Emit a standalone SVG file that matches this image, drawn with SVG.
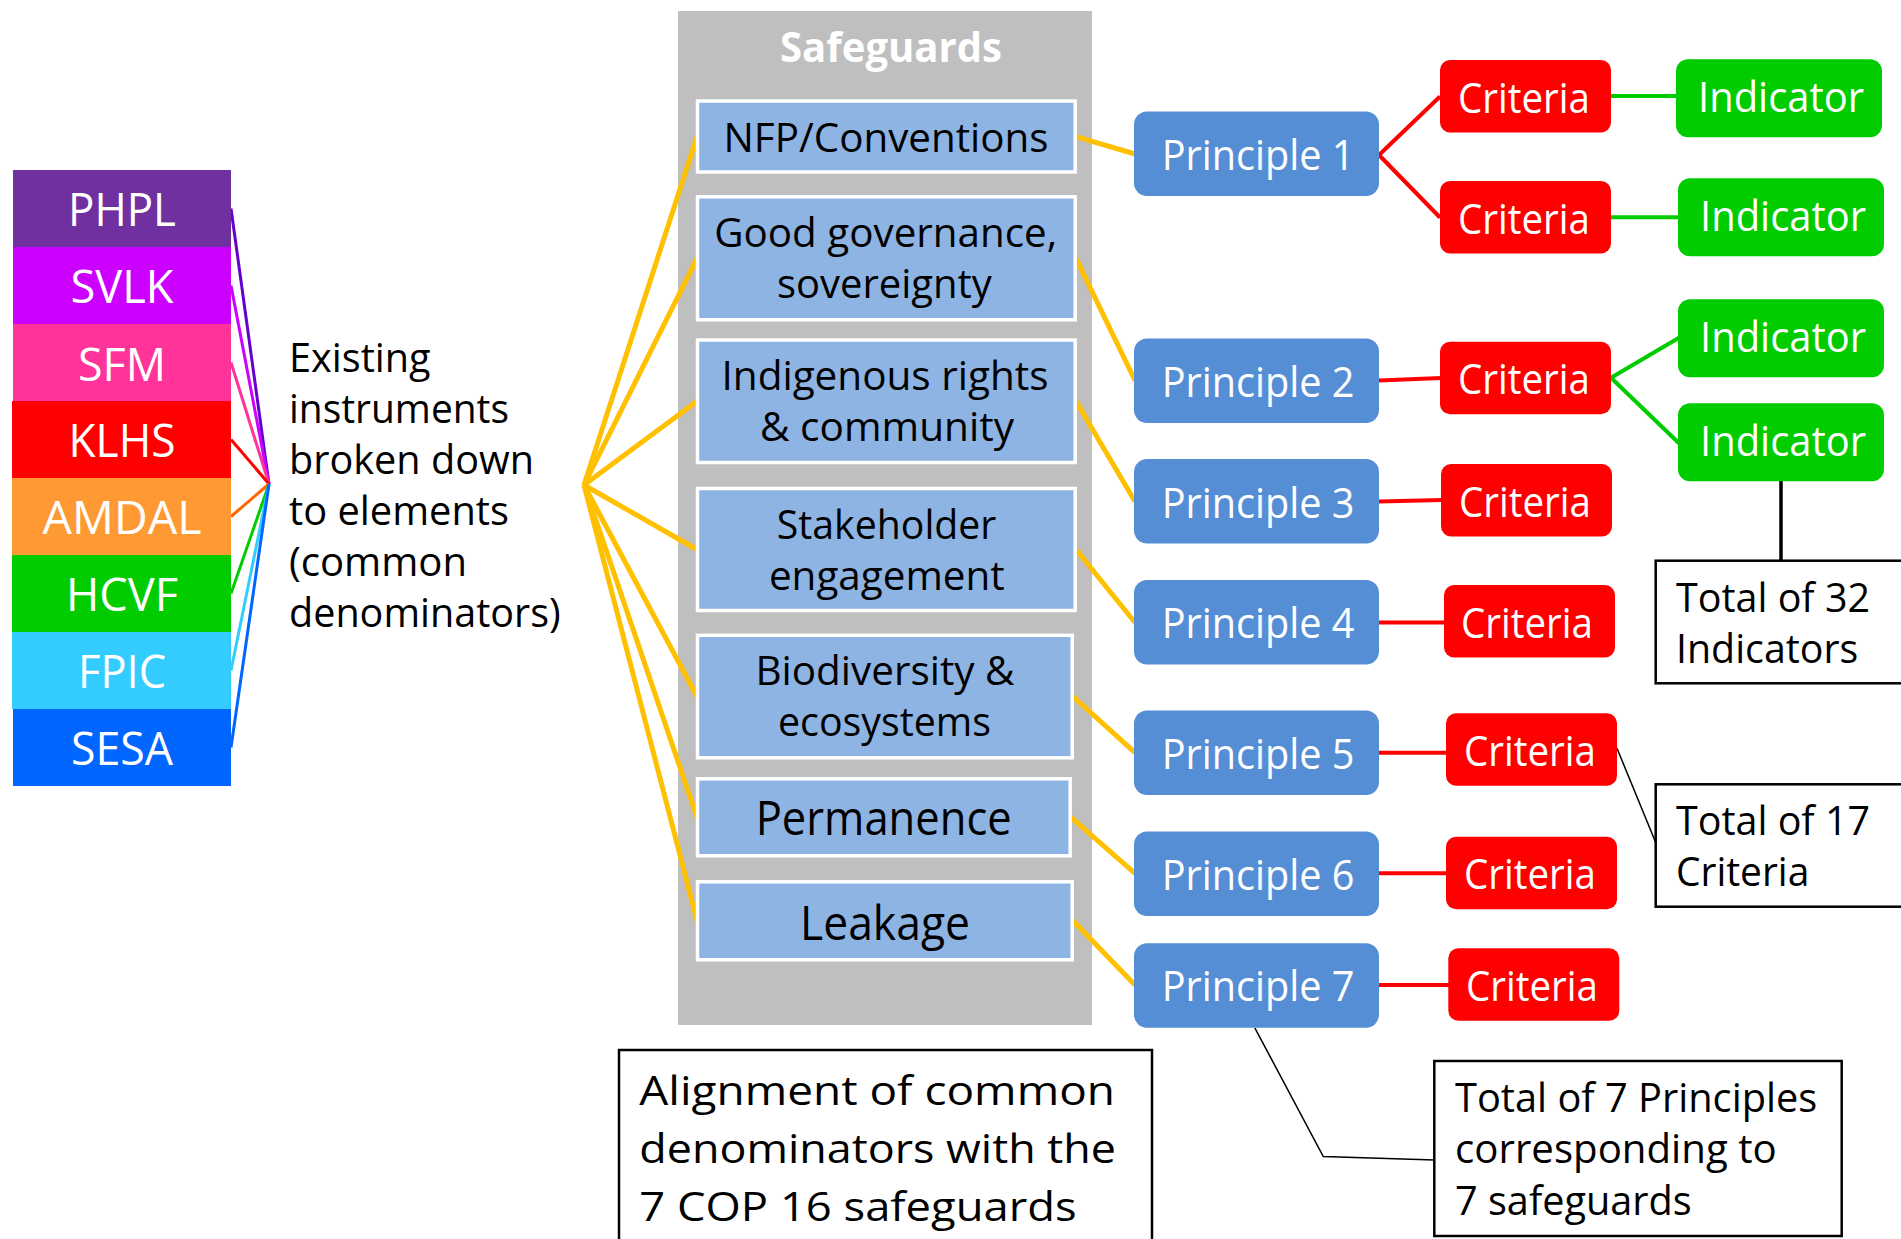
<svg xmlns="http://www.w3.org/2000/svg" width="1901" height="1239" viewBox="0 0 1901 1239">
  <style>
    text { font-family: "Open Sans", "Noto Sans", "Liberation Sans", sans-serif; }
    .inst { fill: #ffffff; font-size: 46px; text-anchor: middle; }
    .note { fill: #000000; font-size: 40px; }
    .sgTitle { fill: #ffffff; font-size: 42px; font-weight: bold; text-anchor: middle; }
    .sgBox { fill: #8EB4E3; stroke: #ffffff; stroke-width: 3.5; }
    .sgTxt { fill: #000000; font-size: 40px; text-anchor: middle; }
    .sgBig { fill: #000000; font-size: 47px; text-anchor: middle; }
    .prin { fill: #558ED5; }
    .crit { fill: #FF0000; }
    .ind { fill: #00CC00; }
    .wTxt { fill: #ffffff; font-size: 42px; text-anchor: middle; }
    .tot { fill: #ffffff; stroke: #000000; stroke-width: 2.5; }
    .totTxt { fill: #000000; font-size: 41px; }
    .yl { stroke: #FFC000; stroke-width: 5; fill: none; }
    .rl { stroke: #FF0000; stroke-width: 4; fill: none; }
    .gl { stroke: #00CC00; stroke-width: 4; fill: none; }
    .bl { stroke: #000000; fill: none; }
  </style>

  <!-- Safeguards container panel -->
  <g id="safeguards-panel">
    <rect x="678" y="11" width="414" height="1014" fill="#BFBFBF"/>
    <text class="sgTitle" x="891" y="62" textLength="222" lengthAdjust="spacingAndGlyphs">Safeguards</text>
  </g>

  <!-- Connectors -->
  <g id="connectors">
    <!-- instruments to common denominators -->
    <line x1="231" y1="208.5" x2="269" y2="484" stroke="#6600CC" stroke-width="3"/>
    <line x1="231" y1="285.5" x2="269" y2="484" stroke="#CC00FF" stroke-width="3"/>
    <line x1="231" y1="362.5" x2="269" y2="484" stroke="#FF3399" stroke-width="3"/>
    <line x1="231" y1="439.5" x2="269" y2="484" stroke="#FF0000" stroke-width="3"/>
    <line x1="231" y1="516.5" x2="269" y2="484" stroke="#FF6600" stroke-width="3"/>
    <line x1="231" y1="593.5" x2="269" y2="484" stroke="#00CC00" stroke-width="3"/>
    <line x1="231" y1="670.5" x2="269" y2="484" stroke="#33CCFF" stroke-width="3"/>
    <line x1="231" y1="747.5" x2="269" y2="484" stroke="#0066FF" stroke-width="3"/>

    <!-- fan into safeguards -->
    <line class="yl" x1="584" y1="485" x2="697" y2="136.7"/>
    <line class="yl" x1="584" y1="485" x2="697" y2="258.3"/>
    <line class="yl" x1="584" y1="485" x2="697" y2="401.3"/>
    <line class="yl" x1="584" y1="485" x2="697" y2="549.5"/>
    <line class="yl" x1="584" y1="485" x2="697" y2="696.5"/>
    <line class="yl" x1="584" y1="485" x2="697" y2="817.4"/>
    <line class="yl" x1="584" y1="485" x2="697" y2="920.7"/>

    <!-- safeguards to principles -->
    <line class="yl" x1="1076" y1="136.7" x2="1135" y2="154"/>
    <line class="yl" x1="1076" y1="258.3" x2="1135" y2="380.5"/>
    <line class="yl" x1="1076" y1="401.3" x2="1135" y2="501.5"/>
    <line class="yl" x1="1076" y1="549.5" x2="1135" y2="622.5"/>
    <line class="yl" x1="1073" y1="696.5" x2="1135" y2="752.7"/>
    <line class="yl" x1="1071" y1="817.4" x2="1135" y2="873.3"/>
    <line class="yl" x1="1073" y1="920.7" x2="1135" y2="985"/>

    <!-- principles to criteria -->
    <line class="rl" x1="1379" y1="155" x2="1440" y2="96.5" stroke-width="3"/>
    <line class="rl" x1="1379" y1="155" x2="1440" y2="217.5" stroke-width="3"/>
    <line class="rl" x1="1379" y1="380.5" x2="1441" y2="378"/>
    <line class="rl" x1="1379" y1="501.5" x2="1442" y2="500"/>
    <line class="rl" x1="1379" y1="622.5" x2="1445" y2="622.5"/>
    <line class="rl" x1="1379" y1="752.7" x2="1447" y2="752.7"/>
    <line class="rl" x1="1379" y1="873.3" x2="1447" y2="873.3"/>
    <line class="rl" x1="1379" y1="985" x2="1449" y2="985"/>

    <!-- criteria to indicators -->
    <line class="gl" x1="1610" y1="96" x2="1677" y2="96"/>
    <line class="gl" x1="1610" y1="217.3" x2="1679" y2="217.3"/>
    <line class="gl" x1="1611" y1="377.7" x2="1679" y2="337.7" stroke-width="3"/>
    <line class="gl" x1="1611" y1="377.7" x2="1679" y2="443.3" stroke-width="3"/>

    <!-- callout leaders -->
    <line class="bl" x1="1781" y1="481" x2="1781" y2="561" stroke-width="3.5"/>
    <line class="bl" x1="1617" y1="748.3" x2="1656" y2="843.3" stroke-width="1.5"/>
    <polyline class="bl" points="1254.8,1027.8 1323.3,1156.5 1434.5,1160" stroke-width="1.5"/>
  </g>

  <!-- Existing instruments -->
  <g id="node-phpl">
    <rect x="13" y="170" width="218" height="77" fill="#7030A0"/>
    <text class="inst" x="122" y="226" textLength="108" lengthAdjust="spacingAndGlyphs">PHPL</text>
  </g>
  <g id="node-svlk">
    <rect x="13" y="247" width="218" height="77" fill="#CC00FF"/>
    <text class="inst" x="122" y="303" textLength="103" lengthAdjust="spacingAndGlyphs">SVLK</text>
  </g>
  <g id="node-sfm">
    <rect x="13" y="324" width="218" height="77" fill="#FF3399"/>
    <text class="inst" x="122" y="381" textLength="88" lengthAdjust="spacingAndGlyphs">SFM</text>
  </g>
  <g id="node-klhs">
    <rect x="12" y="401" width="219" height="77" fill="#FF0000"/>
    <text class="inst" x="122" y="457" textLength="107" lengthAdjust="spacingAndGlyphs">KLHS</text>
  </g>
  <g id="node-amdal">
    <rect x="12" y="478" width="219" height="77" fill="#FF9933"/>
    <text class="inst" x="122" y="534" textLength="159" lengthAdjust="spacingAndGlyphs">AMDAL</text>
  </g>
  <g id="node-hcvf">
    <rect x="12" y="555" width="219" height="77" fill="#00CC00"/>
    <text class="inst" x="122" y="611" textLength="112" lengthAdjust="spacingAndGlyphs">HCVF</text>
  </g>
  <g id="node-fpic">
    <rect x="12" y="632" width="219" height="77" fill="#33CCFF"/>
    <text class="inst" x="122" y="688" textLength="88" lengthAdjust="spacingAndGlyphs">FPIC</text>
  </g>
  <g id="node-sesa">
    <rect x="13" y="709" width="218" height="77" fill="#0066FF"/>
    <text class="inst" x="122" y="765" textLength="102" lengthAdjust="spacingAndGlyphs">SESA</text>
  </g>

  <g id="label-existing">
    <text class="note" x="289" y="372" textLength="141.6" lengthAdjust="spacingAndGlyphs">Existing</text>
    <text class="note" x="289" y="423" textLength="220" lengthAdjust="spacingAndGlyphs">instruments</text>
    <text class="note" x="289" y="474" textLength="245" lengthAdjust="spacingAndGlyphs">broken down</text>
    <text class="note" x="289" y="525" textLength="220" lengthAdjust="spacingAndGlyphs">to elements</text>
    <text class="note" x="289" y="576" textLength="178" lengthAdjust="spacingAndGlyphs">(common</text>
    <text class="note" x="289" y="627" textLength="271.7" lengthAdjust="spacingAndGlyphs">denominators)</text>
  </g>

  <!-- Safeguards -->
  <g id="sg-nfp">
    <rect class="sgBox" x="697.5" y="101" width="377.7" height="71"/>
    <text class="sgTxt" x="886" y="152" font-size="41" textLength="325" lengthAdjust="spacingAndGlyphs">NFP/Conventions</text>
  </g>
  <g id="sg-governance">
    <rect class="sgBox" x="697.5" y="196.8" width="377.7" height="123"/>
    <text class="sgTxt" x="885.7" y="246.7" textLength="343" lengthAdjust="spacingAndGlyphs">Good governance,</text>
    <text class="sgTxt" x="884.4" y="297.7" textLength="215" lengthAdjust="spacingAndGlyphs">sovereignty</text>
  </g>
  <g id="sg-indigenous">
    <rect class="sgBox" x="697.5" y="340" width="377.7" height="122.5"/>
    <text class="sgTxt" x="885" y="390" textLength="327" lengthAdjust="spacingAndGlyphs">Indigenous rights</text>
    <text class="sgTxt" x="887" y="440.7" textLength="254" lengthAdjust="spacingAndGlyphs">&amp; community</text>
  </g>
  <g id="sg-stakeholder">
    <rect class="sgBox" x="697.5" y="488.5" width="377.7" height="122"/>
    <text class="sgTxt" x="886.6" y="539" textLength="219.6" lengthAdjust="spacingAndGlyphs">Stakeholder</text>
    <text class="sgTxt" x="886.8" y="589.6" textLength="235.7" lengthAdjust="spacingAndGlyphs">engagement</text>
  </g>
  <g id="sg-biodiversity">
    <rect class="sgBox" x="697.5" y="635.3" width="374.7" height="122.5"/>
    <text class="sgTxt" x="885" y="685" textLength="259" lengthAdjust="spacingAndGlyphs">Biodiversity &amp;</text>
    <text class="sgTxt" x="884.5" y="735.6" textLength="213" lengthAdjust="spacingAndGlyphs">ecosystems</text>
  </g>
  <g id="sg-permanence">
    <rect class="sgBox" x="697.5" y="778.8" width="372.7" height="77"/>
    <text class="sgBig" x="883.7" y="834.7" textLength="256" lengthAdjust="spacingAndGlyphs">Permanence</text>
  </g>
  <g id="sg-leakage">
    <rect class="sgBox" x="697.5" y="881.8" width="374.7" height="78"/>
    <text class="sgBig" x="885" y="939.5" textLength="170" lengthAdjust="spacingAndGlyphs">Leakage</text>
  </g>

  <!-- Principles -->
  <g id="principle-1">
    <rect class="prin" x="1134" y="111.5" width="245" height="84.5" rx="13"/>
    <text class="wTxt" x="1258" y="170" textLength="192.7" lengthAdjust="spacingAndGlyphs">Principle 1</text>
  </g>
  <g id="principle-2">
    <rect class="prin" x="1134" y="338.5" width="245" height="84.5" rx="13"/>
    <text class="wTxt" x="1258" y="397" textLength="192.7" lengthAdjust="spacingAndGlyphs">Principle 2</text>
  </g>
  <g id="principle-3">
    <rect class="prin" x="1134" y="459" width="245" height="84.5" rx="13"/>
    <text class="wTxt" x="1258" y="517.5" textLength="192.7" lengthAdjust="spacingAndGlyphs">Principle 3</text>
  </g>
  <g id="principle-4">
    <rect class="prin" x="1134" y="580" width="245" height="84.5" rx="13"/>
    <text class="wTxt" x="1258" y="638" textLength="192.7" lengthAdjust="spacingAndGlyphs">Principle 4</text>
  </g>
  <g id="principle-5">
    <rect class="prin" x="1134" y="710.5" width="245" height="84.5" rx="13"/>
    <text class="wTxt" x="1258" y="768.5" textLength="192.7" lengthAdjust="spacingAndGlyphs">Principle 5</text>
  </g>
  <g id="principle-6">
    <rect class="prin" x="1134" y="831.5" width="245" height="84.5" rx="13"/>
    <text class="wTxt" x="1258" y="889.5" textLength="192.7" lengthAdjust="spacingAndGlyphs">Principle 6</text>
  </g>
  <g id="principle-7">
    <rect class="prin" x="1134" y="943.3" width="245" height="84.5" rx="13"/>
    <text class="wTxt" x="1258" y="1001.3" textLength="192.7" lengthAdjust="spacingAndGlyphs">Principle 7</text>
  </g>

  <!-- Criteria -->
  <g id="criteria-1a">
    <rect class="crit" x="1440" y="60" width="171" height="72.5" rx="10"/>
    <text class="wTxt" x="1524" y="112.7" textLength="132" lengthAdjust="spacingAndGlyphs">Criteria</text>
  </g>
  <g id="criteria-1b">
    <rect class="crit" x="1440" y="181" width="171" height="72.5" rx="10"/>
    <text class="wTxt" x="1524" y="233.7" textLength="132" lengthAdjust="spacingAndGlyphs">Criteria</text>
  </g>
  <g id="criteria-2">
    <rect class="crit" x="1440" y="341.7" width="171" height="72.5" rx="10"/>
    <text class="wTxt" x="1524" y="394.4" textLength="132" lengthAdjust="spacingAndGlyphs">Criteria</text>
  </g>
  <g id="criteria-3">
    <rect class="crit" x="1441" y="464" width="171" height="72.5" rx="10"/>
    <text class="wTxt" x="1525" y="516.7" textLength="132" lengthAdjust="spacingAndGlyphs">Criteria</text>
  </g>
  <g id="criteria-4">
    <rect class="crit" x="1444" y="585" width="171" height="72.5" rx="10"/>
    <text class="wTxt" x="1527" y="637.7" textLength="132" lengthAdjust="spacingAndGlyphs">Criteria</text>
  </g>
  <g id="criteria-5">
    <rect class="crit" x="1446" y="713.3" width="171" height="72.5" rx="10"/>
    <text class="wTxt" x="1530" y="766" textLength="132" lengthAdjust="spacingAndGlyphs">Criteria</text>
  </g>
  <g id="criteria-6">
    <rect class="crit" x="1446" y="836.7" width="171" height="72.5" rx="10"/>
    <text class="wTxt" x="1530" y="889.4" textLength="132" lengthAdjust="spacingAndGlyphs">Criteria</text>
  </g>
  <g id="criteria-7">
    <rect class="crit" x="1448.3" y="948.3" width="171" height="72.5" rx="10"/>
    <text class="wTxt" x="1532" y="1001" textLength="132" lengthAdjust="spacingAndGlyphs">Criteria</text>
  </g>

  <!-- Indicators -->
  <g id="indicator-1">
    <rect class="ind" x="1676" y="59.3" width="206" height="78" rx="12"/>
    <text class="wTxt" x="1781" y="111.7" font-size="41" textLength="166" lengthAdjust="spacingAndGlyphs">Indicator</text>
  </g>
  <g id="indicator-2">
    <rect class="ind" x="1678" y="178.3" width="206" height="78" rx="12"/>
    <text class="wTxt" x="1783" y="230.7" font-size="41" textLength="166" lengthAdjust="spacingAndGlyphs">Indicator</text>
  </g>
  <g id="indicator-3">
    <rect class="ind" x="1678" y="299.3" width="206" height="78" rx="12"/>
    <text class="wTxt" x="1783" y="351.7" font-size="41" textLength="166" lengthAdjust="spacingAndGlyphs">Indicator</text>
  </g>
  <g id="indicator-4">
    <rect class="ind" x="1678" y="403.3" width="206" height="78" rx="12"/>
    <text class="wTxt" x="1783" y="455.7" font-size="41" textLength="166" lengthAdjust="spacingAndGlyphs">Indicator</text>
  </g>

  <!-- Totals -->
  <g id="total-indicators">
    <rect class="tot" x="1655.7" y="560.7" width="260" height="122.6"/>
    <text class="totTxt" x="1676" y="611.7" textLength="194" lengthAdjust="spacingAndGlyphs">Total of 32</text>
    <text class="totTxt" x="1676" y="662.7" textLength="182.3" lengthAdjust="spacingAndGlyphs">Indicators</text>
  </g>
  <g id="total-criteria">
    <rect class="tot" x="1655.7" y="784.3" width="260" height="122.4"/>
    <text class="totTxt" x="1676" y="835" textLength="194" lengthAdjust="spacingAndGlyphs">Total of 17</text>
    <text class="totTxt" x="1676" y="885.7" textLength="133.3" lengthAdjust="spacingAndGlyphs">Criteria</text>
  </g>
  <g id="total-principles">
    <rect class="tot" x="1434.3" y="1061" width="407.4" height="175"/>
    <text class="totTxt" x="1455" y="1111.7" textLength="362.3" lengthAdjust="spacingAndGlyphs">Total of 7 Principles</text>
    <text class="totTxt" x="1455" y="1163.3" textLength="321.7" lengthAdjust="spacingAndGlyphs">corresponding to</text>
    <text class="totTxt" x="1455" y="1215" textLength="236.7" lengthAdjust="spacingAndGlyphs">7 safeguards</text>
  </g>
  <g id="alignment-note">
    <rect class="tot" x="619" y="1050" width="533" height="210" stroke-width="2"/>
    <text class="totTxt" x="639.3" y="1105" font-size="58" textLength="475.7" lengthAdjust="spacingAndGlyphs">Alignment of common</text>
    <text class="totTxt" x="639.3" y="1163" font-size="58" textLength="476.7" lengthAdjust="spacingAndGlyphs">denominators with the</text>
    <text class="totTxt" x="639.3" y="1221" font-size="58" textLength="437.3" lengthAdjust="spacingAndGlyphs">7 COP 16 safeguards</text>
  </g>
</svg>
